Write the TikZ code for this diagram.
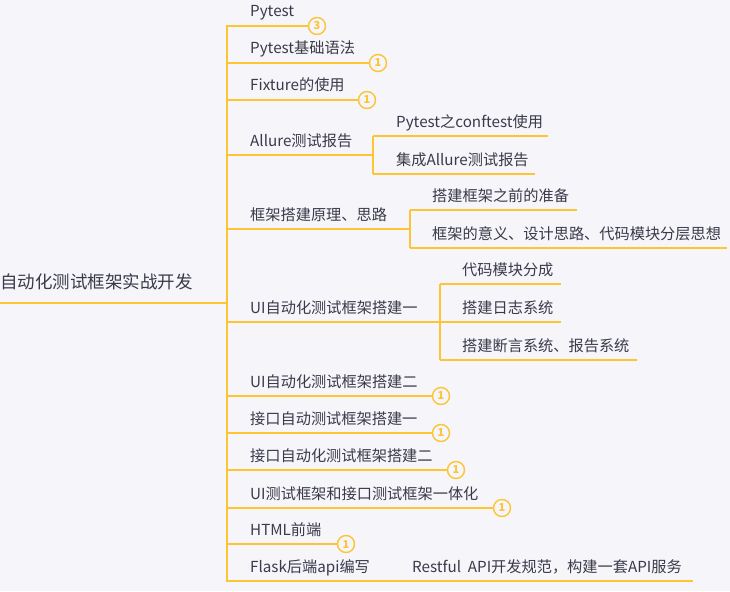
\documentclass[tikz,border=0pt]{standalone}
\usepackage{fontspec}
\setmainfont{Noto Sans CJK SC}
\definecolor{bg}{HTML}{F5F5FA}
\definecolor{ln}{HTML}{FDC534}
\definecolor{tx}{HTML}{3A3A4A}
\begin{document}
\begin{tikzpicture}[x=1pt,y=-1pt,
 lbl/.style={anchor=base west, inner sep=0pt, text=tx, font=\fontsize{15.2}{18}\selectfont},
 rootlbl/.style={lbl, font=\fontsize{17.5}{20}\selectfont},
 mainln/.style={draw=ln, line width=2pt},
 subln/.style={draw=ln, line width=1.1pt},
 badge/.style={circle, draw=ln, line width=1.4pt, fill=bg, minimum size=17pt, inner sep=0pt, text=ln, font=\fontsize{11}{11}\selectfont\bfseries}]
\fill[bg] (0,0) rectangle (730,591);
\useasboundingbox (0,0) rectangle (730,591);

% root
\node[rootlbl] (root) at (0,288.5) {自动化测试框架实战开发};
\coordinate (r0) at (0,303);
\coordinate (hub) at (227,303);
\coordinate (ttop) at (227,25);
\coordinate (tbot) at (227,582);
\draw[mainln] (r0) -- (hub);
\draw[mainln] (ttop) -- (tbot);

% main branches with badges
\node[lbl] (m1) at (250,17) {Pytest};
\coordinate (t1) at (227,26);
\node[badge] (b1) at (317,26) {3};
\draw[mainln] (t1) -- (b1);

\node[lbl] (m2) at (250,54) {Pytest基础语法};
\coordinate (t2) at (227,63);
\node[badge] (b2) at (378,63) {1};
\draw[mainln] (t2) -- (b2);

\node[lbl] (m3) at (250,91) {Fixture的使用};
\coordinate (t3) at (227,100);
\node[badge] (b3) at (367,100) {1};
\draw[mainln] (t3) -- (b3);

% Allure
\node[lbl] (m4) at (250,146.5) {Allure测试报告};
\coordinate (t4) at (227,155);
\coordinate (e4) at (360,155);
\coordinate (j4) at (373,155);
\coordinate (j4t) at (373,136);
\coordinate (j4b) at (373,174);
\coordinate (s41) at (548,136);
\coordinate (s42) at (535,174);
\draw[mainln] (t4) -- (e4);
\draw[subln] (e4) -- (j4);
\draw[subln] (j4t) -- (j4b);
\draw[subln] (j4t) -- (s41);
\draw[subln] (j4b) -- (s42);
\node[lbl] (c41) at (396,127.5) {Pytest之conftest使用};
\node[lbl] (c42) at (396,165.5) {集成Allure测试报告};

% 框架搭建原理
\node[lbl] (m5) at (250,220.5) {框架搭建原理、思路};
\coordinate (t5) at (227,229);
\coordinate (e5) at (396,229);
\coordinate (j5) at (410,229);
\coordinate (j5t) at (410,210);
\coordinate (j5b) at (410,248);
\coordinate (s51) at (577,210);
\coordinate (s52) at (727,248);
\draw[mainln] (t5) -- (e5);
\draw[subln] (e5) -- (j5);
\draw[subln] (j5t) -- (j5b);
\draw[subln] (j5t) -- (s51);
\draw[subln] (j5b) -- (s52);
\node[lbl] (c51) at (432,201.5) {搭建框架之前的准备};
\node[lbl] (c52) at (432,239.5) {框架的意义、设计思路、代码模块分层思想};

% UI一
\node[lbl] (m6) at (250,313.5) {UI自动化测试框架搭建一};
\coordinate (t6) at (227,322);
\coordinate (e6) at (427,322);
\coordinate (j6) at (440,322);
\coordinate (j6t) at (440,284);
\coordinate (j6b) at (440,360);
\coordinate (s61) at (561,284);
\coordinate (s62) at (561,322);
\coordinate (s63) at (637,360);
\draw[mainln] (t6) -- (e6);
\draw[subln] (e6) -- (s62);
\draw[subln] (j6t) -- (j6b);
\draw[subln] (j6t) -- (s61);
\draw[subln] (j6b) -- (s63);
\node[lbl] (c61) at (462,275.5) {代码模块分成};
\node[lbl] (c62) at (462,313.5) {搭建日志系统};
\node[lbl] (c63) at (462,351.5) {搭建断言系统、报告系统};

% more badges
\node[lbl] (m7) at (250,387.5) {UI自动化测试框架搭建二};
\coordinate (t7) at (227,396);
\node[badge] (b7) at (441,396) {1};
\draw[mainln] (t7) -- (b7);

\node[lbl] (m8) at (250,424.5) {接口自动测试框架搭建一};
\coordinate (t8) at (227,433);
\node[badge] (b8) at (441,433) {1};
\draw[mainln] (t8) -- (b8);

\node[lbl] (m9) at (250,461.5) {接口自动化测试框架搭建二};
\coordinate (t9) at (227,470);
\node[badge] (b9) at (456,470) {1};
\draw[mainln] (t9) -- (b9);

\node[lbl] (m10) at (250,499.5) {UI测试框架和接口测试框架一体化};
\coordinate (t10) at (227,508);
\node[badge] (b10) at (502,508) {1};
\draw[mainln] (t10) -- (b10);

\node[lbl] (m11) at (250,535.5) {HTML前端};
\coordinate (t11) at (227,544);
\node[badge] (b11) at (346,544) {1};
\draw[mainln] (t11) -- (b11);

% Flask
\node[lbl] (m12) at (250,572.5) {Flask后端api编写};
\coordinate (t12) at (227,581);
\coordinate (e12) at (376,581);
\coordinate (s12) at (693,581);
\draw[mainln] (t12) -- (e12);
\draw[subln] (e12) -- (s12);
\node[lbl] (c12) at (412,572.5) {Restful\ \ API开发规范，构建一套API服务};
\end{tikzpicture}
\end{document}
